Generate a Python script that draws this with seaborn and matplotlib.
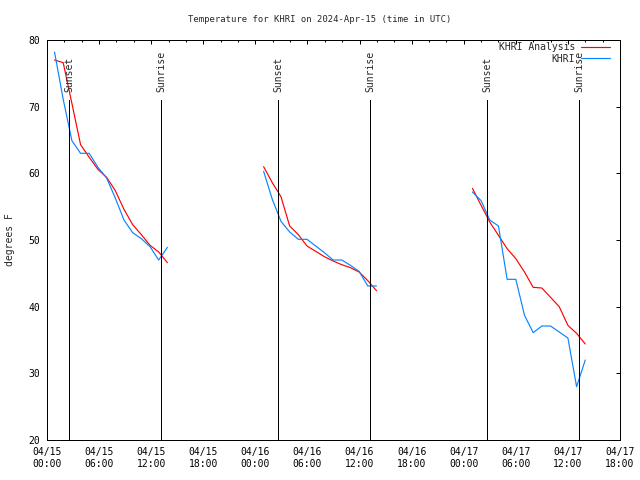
import numpy as np
import pandas as pd
import matplotlib
matplotlib.use("Agg")
import matplotlib.pyplot as plt
import matplotlib.dates as mdates
from matplotlib.lines import Line2D
import seaborn as sns

# hourly temperatures (F), three overnight windows
seg_starts = ["2024-04-15 00:52", "2024-04-16 00:57", "2024-04-17 01:00"]

analysis_1 = [77.0, 76.6, 70.5, 64.3, 62.4, 60.6, 59.4, 57.4, 54.6, 52.3, 50.8, 49.2, 48.2, 46.6]
obs_1 = [78.2, 71.1, 64.9, 63.0, 63.0, 60.9, 59.3, 56.3, 53.0, 51.1, 50.2, 49.0, 47.0, 48.9]
analysis_2 = [61.0, 58.6, 56.5, 52.1, 50.8, 49.1, 48.3, 47.5, 46.85, 46.3, 45.85, 45.2, 43.9, 42.4]
obs_2 = [60.3, 56.1, 52.8, 51.2, 50.1, 50.1, 49.1, 48.1, 47.0, 47.0, 46.2, 45.3, 43.1, 43.1]
analysis_3 = [57.75, 55.2, 52.7, 50.7, 48.7, 47.2, 45.2, 42.9, 42.8, 41.4, 40.0, 37.2, 36.0, 34.4]
obs_3 = [57.2, 55.9, 53.0, 52.1, 44.1, 44.1, 38.7, 36.1, 37.1, 37.1, 36.2, 35.3, 28.0, 32.0]

sunset = ["2024-04-15 02:34", "2024-04-16 02:36", "2024-04-17 02:41"]
sunrise = ["2024-04-15 13:10", "2024-04-16 13:12", "2024-04-17 13:18"]

series_names = ["KHRI Analysis", "KHRI"]
series_colors = ["#ff0000", "#0a84ff"]

frames = []
for seg, (start, a, o) in enumerate(zip(seg_starts,
                                         [analysis_1, analysis_2, analysis_3],
                                         [obs_1, obs_2, obs_3])):
    times = pd.date_range(start, periods=len(a), freq="h")
    for name, vals in zip(series_names, (a, o)):
        frames.append(pd.DataFrame({"time": times, "temp": vals,
                                    "series": name, "seg": seg}))
df = pd.concat(frames, ignore_index=True)

sns.set_theme(style="white")
plt.rcParams["font.family"] = ["DejaVu Sans Mono"]

LW = 0.72  # one pixel at 100 dpi
DATA_LW = 0.85

fig = plt.figure(figsize=(6.4, 4.8), dpi=100)
ax = fig.add_axes([47 / 640, 40 / 480, 573 / 640, 400 / 480])

sns.lineplot(data=df, x="time", y="temp", hue="series", units="seg",
             estimator=None, hue_order=series_names,
             palette=dict(zip(series_names, series_colors)),
             linewidth=DATA_LW, legend=False, ax=ax)
for line in ax.lines:
    line.set_linewidth(DATA_LW)
    line.set_antialiased(True)

for t in sunset:
    ax.axvline(pd.Timestamp(t), ymax=0.85, color="black", lw=LW,
               antialiased=False)
    ax.text(pd.Timestamp(t), 0.87, "Sunset", rotation=90, ha="center",
            va="bottom", fontsize=7, transform=ax.get_xaxis_transform())
for t in sunrise:
    ax.axvline(pd.Timestamp(t), ymax=0.85, color="black", lw=LW,
               antialiased=False)
    ax.text(pd.Timestamp(t), 0.87, "Sunrise", rotation=90, ha="center",
            va="bottom", fontsize=7, transform=ax.get_xaxis_transform())

ax.set_xlim(pd.Timestamp("2024-04-15 00:00"), pd.Timestamp("2024-04-17 18:00"))
ax.set_ylim(20, 80)
ax.set_yticks(range(20, 81, 10))
ax.xaxis.set_major_locator(mdates.HourLocator(byhour=[0, 6, 12, 18]))
ax.xaxis.set_minor_locator(mdates.HourLocator(byhour=range(0, 24, 2)))
ax.xaxis.set_major_formatter(mdates.DateFormatter("%m/%d\n%H:%M"))
ax.set_xlabel("")
ax.set_ylabel("")

ax.tick_params(axis="both", which="both", direction="in", top=True,
               right=True, width=LW, colors="black", labelsize=7)
ax.tick_params(axis="x", which="major", length=3.2, pad=5)
ax.tick_params(axis="x", which="minor", length=1.6)
ax.tick_params(axis="y", which="major", length=3.2, pad=5)
for s in ax.spines.values():
    s.set_color("black")
    s.set_linewidth(LW)

handles = [Line2D([], [], color=c, lw=DATA_LW) for c in series_colors]
ax.legend(handles, series_names, loc="upper right",
          bbox_to_anchor=(0.9825, 0.994), borderaxespad=0, borderpad=0,
          frameon=False, markerfirst=False, handlelength=3.0,
          handletextpad=0.6, labelspacing=0.15, fontsize=7)

fig.text(0.5, 1 - 20 / 480, "Temperature for KHRI on 2024-Apr-15 (time in UTC)",
         ha="center", va="center", fontsize=6.4)
fig.text(10 / 640, 0.5, "degrees F", rotation=90, ha="center", va="center",
         fontsize=7)

fig.savefig("out.png", dpi=100)
